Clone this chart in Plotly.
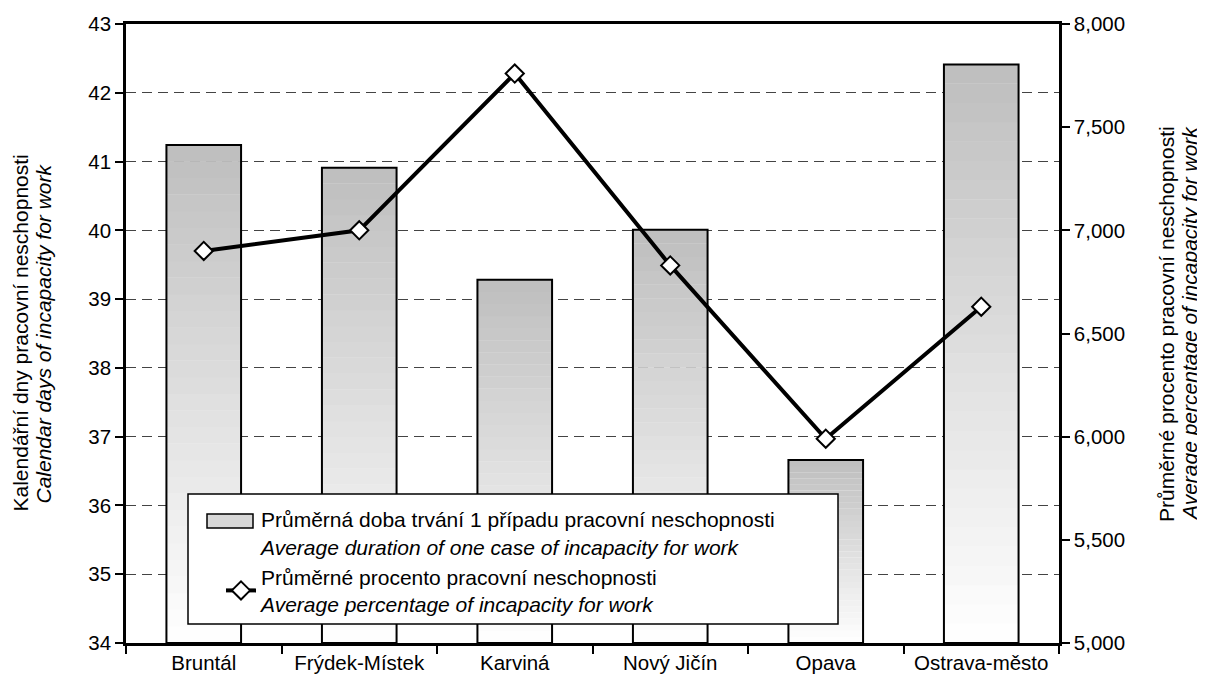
import plotly.graph_objects as go

# ---- data ----
categories = ["Bruntál", "Frýdek-Místek", "Karviná", "Nový Jičín", "Opava", "Ostrava-město"]
avg_duration = [41.24, 40.91, 39.28, 40.01, 36.66, 42.41]
avg_percentage = [6900, 7000, 7760, 6830, 5990, 6630]

bar_name = "Průměrná doba trvání 1 případu pracovní neschopnosti<br><i>Average duration of one case of incapacity for work</i>"
line_name = "Průměrné procento pracovní neschopnosti<br><i>Average percentage of incapacity for work</i>"
y_title_1 = "Kalendářní dny pracovní neschopnosti"
y_title_2 = "<i>Calendar days of incapacity for work</i>"
y2_title_1 = "Průměrné procento pracovní neschopnosti"
y2_title_2 = "<i>Average percentage of incapacity for work</i>"

Y_MIN, Y_MAX = 34, 43
Y2_MIN, Y2_MAX = 5000, 8000

FONT = "Liberation Sans, Arial, sans-serif"
BAR_W = 0.48

# page body adds an 8px offset; work in reference (screen) pixels
OFF = 8
W, H = 1205 - OFF, 683 - OFF

fig = go.Figure()

# legend carrier (its own square glyph hidden; a wide glyph is drawn as a shape)
fig.add_trace(go.Bar(
    x=categories, y=[v - Y_MIN for v in avg_duration], base=Y_MIN,
    width=BAR_W, name=bar_name,
    marker=dict(color="rgba(0,0,0,0)", line=dict(width=0)),
    showlegend=True, hoverinfo="skip"))

# gradient bands (top grey -> bottom white)
N = 30
top_c = 190
for i in range(N):
    frac = (i + 0.5) / N  # 0 bottom .. 1 top
    c = int(round(255 - (255 - top_c) * frac))
    fig.add_trace(go.Bar(
        x=categories,
        y=[(v - Y_MIN) / N * 1.02 for v in avg_duration],
        base=[Y_MIN + (v - Y_MIN) * i / N for v in avg_duration],
        width=BAR_W,
        marker=dict(color=f"rgb({c},{c},{c})", line=dict(width=0)),
        showlegend=False, hoverinfo="skip"))

# outline on top
fig.add_trace(go.Bar(
    x=categories, y=[v - Y_MIN for v in avg_duration], base=Y_MIN,
    width=BAR_W,
    marker=dict(color="rgba(0,0,0,0)", line=dict(color="black", width=2)),
    showlegend=False, hoverinfo="skip"))

fig.add_trace(go.Scatter(
    x=categories, y=avg_percentage, yaxis="y2", name=line_name,
    mode="lines+markers",
    line=dict(color="black", width=4),
    marker=dict(symbol="diamond", size=14, color="white",
                line=dict(color="black", width=2))))

# plot area in screen pixels
PL, PR, PT, PB = 126, 1059, 24, 643
PW, PH = PR - PL, PB - PT


def px_x(p):
    return (p - PL) / PW


def px_y(p):
    return (PB - p) / PH


fig.update_layout(
    width=W, height=H,
    margin=dict(l=PL - OFF, r=1205 - PR, t=PT - OFF, b=683 - PB, autoexpand=False),
    paper_bgcolor="white", plot_bgcolor="white",
    barmode="overlay",
    font=dict(family=FONT, size=20.5, color="black"),
    showlegend=True,
    legend=dict(
        x=px_x(221), y=px_y(499), xanchor="left", yanchor="top",
        bgcolor="rgba(0,0,0,0)", borderwidth=0,
        font=dict(family=FONT, size=21, color="black"),
        tracegroupgap=2, traceorder="normal"),
    xaxis=dict(
        type="category", tickson="boundaries", ticks="outside", ticklen=8,
        tickwidth=1.5, tickcolor="black", automargin=False,
        showline=True, linecolor="black", linewidth=2.5, mirror=True,
        showgrid=False, tickfont=dict(size=20.5)),
    yaxis=dict(
        range=[Y_MIN, Y_MAX], dtick=1, ticks="outside", ticklen=8,
        tickwidth=1.5, tickcolor="black", automargin=False,
        showline=True, linecolor="black", linewidth=2.5, mirror=True,
        showgrid=True, gridcolor="#444444", gridwidth=1, griddash="10px,6px",
        zeroline=False, tickfont=dict(size=20.5)),
    yaxis2=dict(
        overlaying="y", side="right", range=[Y2_MIN, Y2_MAX], dtick=500,
        tickformat=",", ticks="outside", ticklen=8, tickwidth=1.5,
        tickcolor="black", showline=True, linecolor="black", linewidth=2.5,
        showgrid=False, zeroline=False, automargin=False,
        tickfont=dict(size=20.5)),
    shapes=[
        dict(type="rect", xref="paper", yref="paper", layer="above",
             x0=px_x(188), x1=px_x(838), y0=px_y(624), y1=px_y(494),
             fillcolor="white", line=dict(color="black", width=1.5)),
        # wide bar glyph for the legend
        dict(type="rect", xref="paper", yref="paper", layer="above",
             x0=px_x(207), x1=px_x(253), y0=px_y(528), y1=px_y(514),
             fillcolor="#d8d8d8", line=dict(color="black", width=1.5)),
    ],
    annotations=[
        dict(text=y_title_1, xref="paper", yref="paper", x=px_x(20), y=0.5,
             xanchor="center", yanchor="middle", textangle=-90,
             showarrow=False, font=dict(family=FONT, size=21)),
        dict(text=y_title_2, xref="paper", yref="paper", x=px_x(43), y=0.5,
             xanchor="center", yanchor="middle", textangle=-90,
             showarrow=False, font=dict(family=FONT, size=21)),
        dict(text=y2_title_1, xref="paper", yref="paper", x=px_x(1167), y=px_y(324),
             xanchor="center", yanchor="middle", textangle=-90,
             showarrow=False, font=dict(family=FONT, size=21)),
        dict(text=y2_title_2, xref="paper", yref="paper", x=px_x(1190), y=px_y(324),
             xanchor="center", yanchor="middle", textangle=-90,
             showarrow=False, font=dict(family=FONT, size=21)),
    ],
)

fig.write_html("out.html")
